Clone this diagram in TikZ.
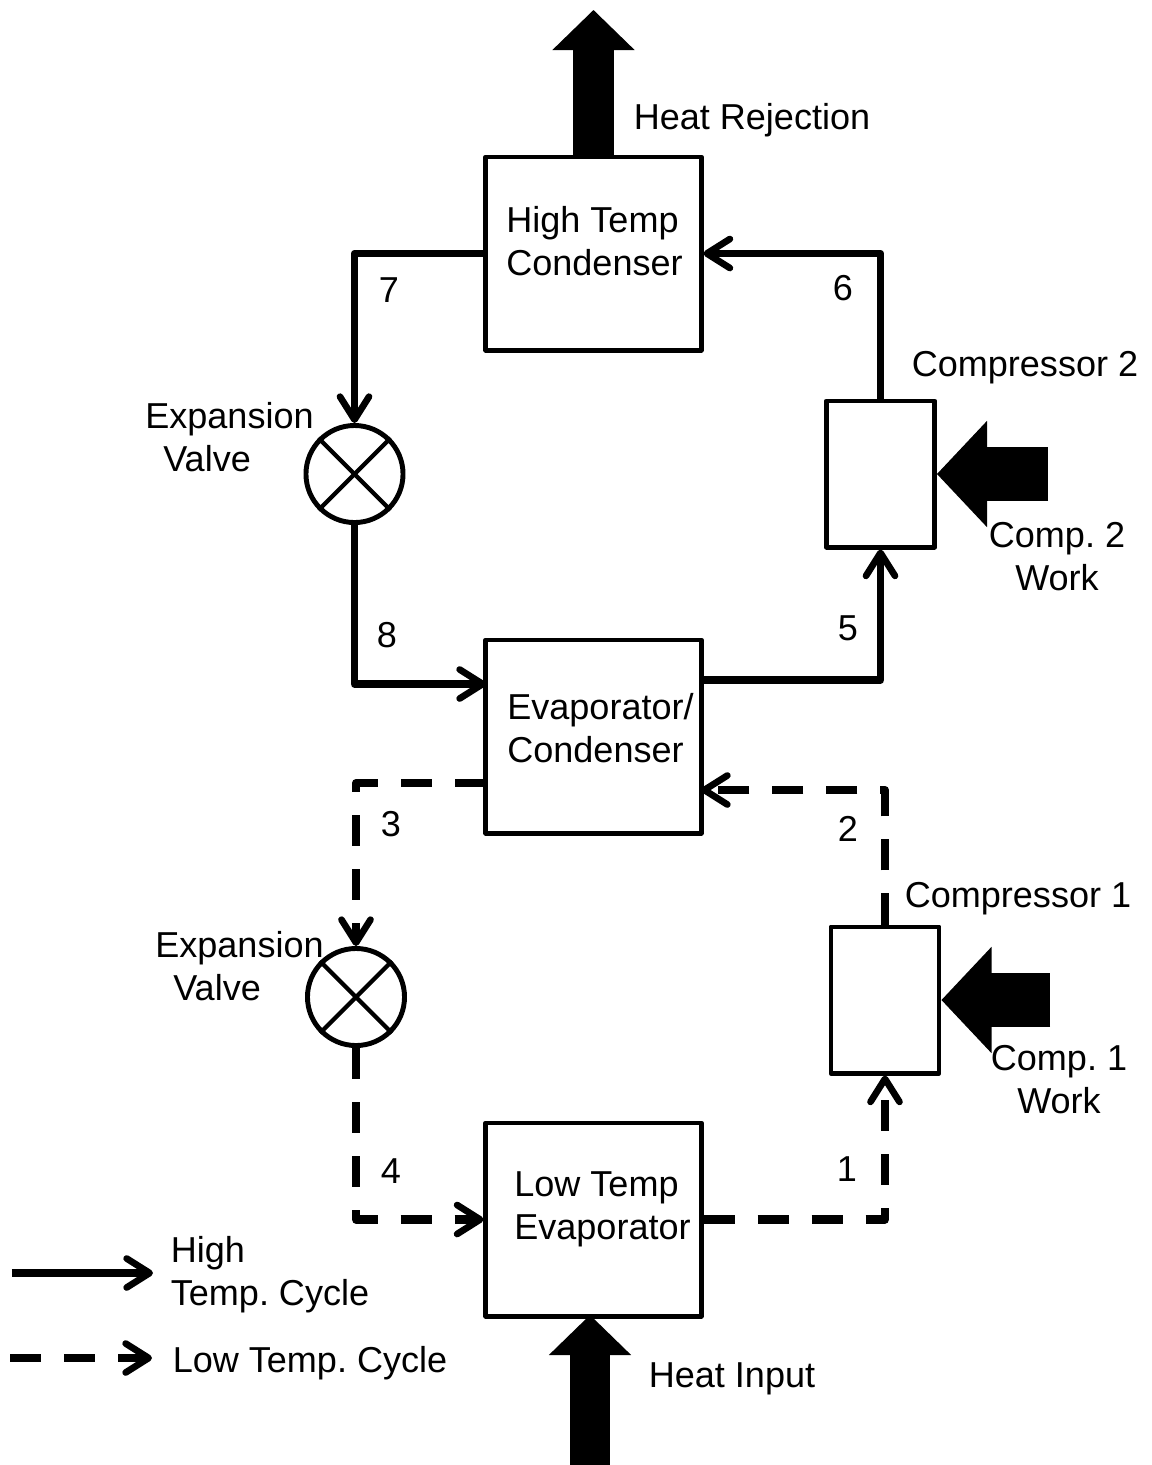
\documentclass[tikz,border=0pt]{standalone}
\usepackage{fontspec}
\setmainfont{Liberation Sans}
\usetikzlibrary{arrows.meta}
\frenchspacing
\tikzset{
  flowtip/.style={-{Straight Barb[length=0.23cm,width=0.29cm,line width=1.9pt,round]}},
  hiflow/.style={line width=2.1pt,line join=round,flowtip},
  loflow/.style={hiflow,line width=2.3pt,dash pattern=on 0.31cm off 0.23cm},
  flowbox/.style={draw,line width=1.4pt,line join=round,inner sep=0pt,minimum width=2.15cm,minimum height=1.93cm},
  compbox/.style={draw,line width=1.4pt,line join=round,inner sep=0pt,minimum width=1.08cm,minimum height=1.46cm},
  valvecirc/.style={draw,circle,line width=1.4pt,inner sep=0pt,minimum size=0.97cm},
  valvecross/.style={line width=1.2pt},
  heatarrow/.style={line width=0.4cm,-{Triangle[length=0.4cm,width=0.82cm,line width=0.4pt]}},
  workarrow/.style={line width=0.54cm,-{Triangle[length=0.5cm,width=1.06cm,line width=0.4pt]}},
  txt/.style={font=\fontsize{10.25}{12.2}\selectfont,inner sep=0pt,align=center},
  txtl/.style={txt,align=left}
}
\begin{document}
\begin{tikzpicture}[x=0.01cm,y=-0.01cm]
  \useasboundingbox (0,0) rectangle (1152,1465);

  % three heat exchangers
  \node[flowbox] (hicond) at (593.5,253.5) {};
  \node[txtl] (hicondtxt) at (594.5,241.5) {High Temp\\Condenser};
  \node[flowbox] (evap) at (593.5,736.5) {};
  \node[txtl] (evaptxt) at (600.5,728.5) {Evaporator/\\Condenser};
  \node[flowbox] (loevap) at (593.5,1219.5) {};
  \node[txtl] (loevaptxt) at (602.5,1209) {Low Temp\\Evaporator};

  % compressors
  \node[compbox] (comp2) at (880.5,474) {};
  \node[compbox] (comp1) at (885,1000) {};
  \node[txt] (comp2txt) at (1025,368) {Compressor 2};
  \node[txt] (comp1txt) at (1018,899) {Compressor 1};

  % expansion valves
  \node[valvecirc] (valve1) at (354.5,474) {};
  \draw[valvecross] (valve1.north west) -- (valve1.south east);
  \draw[valvecross] (valve1.north east) -- (valve1.south west);
  \node[txtl] (valve1txt) at (229.5,437) {Expansion\\\hspace*{0.18cm}Valve};
  \node[valvecirc] (valve2) at (356,997) {};
  \draw[valvecross] (valve2.north west) -- (valve2.south east);
  \draw[valvecross] (valve2.north east) -- (valve2.south west);
  \node[txtl] (valve2txt) at (239.5,966.5) {Expansion\\\hspace*{0.18cm}Valve};

  % side ports on the middle exchanger
  \coordinate (evapin) at (486,684);
  \coordinate (evapout) at (701,680);
  \coordinate (evapback) at (486,783);
  \coordinate (evapret) at (701,790);

  % high temperature cycle
  \draw[hiflow] (hicond.west) -| (valve1.north);
  \draw[hiflow] (valve1.south) |- (evapin);
  \draw[hiflow] (evapout) -| (comp2.south);
  \draw[hiflow] (comp2.north) |- (hicond.east);

  % low temperature cycle
  \draw[loflow] (evapback) -| (valve2.north);
  \draw[loflow] (valve2.south) |- (loevap.west);
  \draw[loflow] (loevap.east) -| (comp1.south);
  \draw[loflow] (comp1.north) |- (evapret);

  % state numbers
  \node[txt] (n7) at (389,290) {7};
  \node[txt] (n6) at (843,288) {6};
  \node[txt] (n8) at (387,635) {8};
  \node[txt] (n5) at (848,628) {5};
  \node[txt] (n3) at (391,824) {3};
  \node[txt] (n2) at (848,829) {2};
  \node[txt] (n4) at (391,1171) {4};
  \node[txt] (n1) at (847,1169) {1};

  % heat and work
  \coordinate (rejtip) at (593.5,10);
  \draw[heatarrow] (hicond.north) -- (rejtip);
  \node[txt] (rejtxt) at (752,120) {Heat Rejection};
  \coordinate (inbase) at (590,1465);
  \coordinate (intip) at (590,1315);
  \draw[heatarrow] (inbase) -- (intip);
  \node[txt] (intxt) at (732,1379) {Heat Input};
  \coordinate (work2base) at (1048,474);
  \draw[workarrow] (work2base) -- (comp2.east);
  \node[txt] (work2txt) at (1057,557) {Comp. 2\\Work};
  \coordinate (work1base) at (1050,1000);
  \draw[workarrow] (work1base) -- (comp1.east);
  \node[txt] (work1txt) at (1059,1080) {Comp. 1\\Work};

  % legend
  \coordinate (keyhia) at (12,1273);
  \coordinate (keyhib) at (153,1273);
  \draw[hiflow] (keyhia) -- (keyhib);
  \node[txtl] (keyhitxt) at (270,1275) {High\\Temp. Cycle};
  \coordinate (keyloa) at (10,1358);
  \coordinate (keylob) at (152,1358);
  \draw[loflow] (keyloa) -- (keylob);
  \node[txt] (keylotxt) at (310,1363) {Low Temp. Cycle};
\end{tikzpicture}
\end{document}
